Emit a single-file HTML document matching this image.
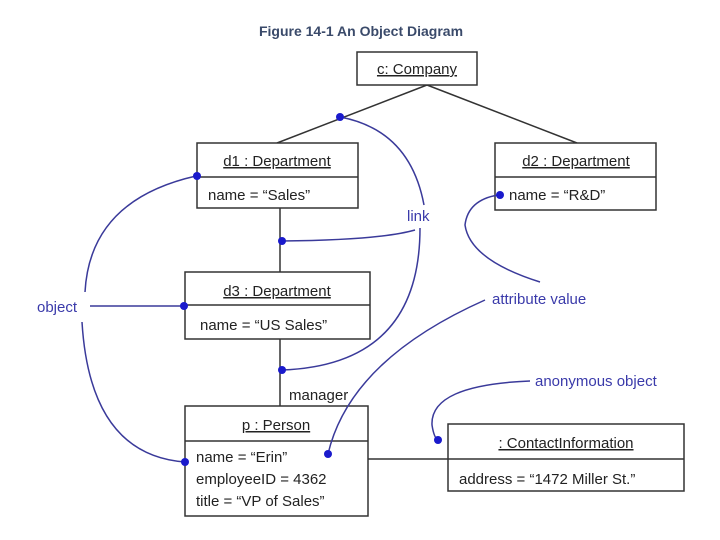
<!DOCTYPE html>
<html><head><meta charset="utf-8"><style>
body{margin:0;background:#fff;width:720px;height:540px;overflow:hidden}
svg{display:block}
text{font-family:"Liberation Sans",sans-serif}
</style></head><body>
<svg width="720" height="540" viewBox="0 0 720 540">
<text x="361" y="36" text-anchor="middle" font-size="14" font-weight="bold" fill="#3a4a6a">Figure 14-1 An Object Diagram</text>
<g stroke="#333" stroke-width="1.5" fill="none">
<line x1="427" y1="85" x2="277" y2="143"/>
<line x1="427" y1="85" x2="577" y2="143"/>
<line x1="280" y1="208" x2="280" y2="272"/>
<line x1="280" y1="339" x2="280" y2="406"/>
<line x1="368" y1="459" x2="448" y2="459"/>
<rect x="357" y="52" width="120" height="33" fill="#fff"/>
<rect x="197" y="143" width="161" height="65" fill="#fff"/><line x1="197" y1="177" x2="358" y2="177"/>
<rect x="495" y="143" width="161" height="67" fill="#fff"/><line x1="495" y1="177" x2="656" y2="177"/>
<rect x="185" y="272" width="185" height="67" fill="#fff"/><line x1="185" y1="305" x2="370" y2="305"/>
<rect x="185" y="406" width="183" height="110" fill="#fff"/><line x1="185" y1="441" x2="368" y2="441"/>
<rect x="448" y="424" width="236" height="67" fill="#fff"/><line x1="448" y1="459" x2="684" y2="459"/>
</g>
<g font-size="15" fill="#222">
<text x="417" y="74" text-anchor="middle" text-decoration="underline">c: Company</text>
<text x="277" y="166" text-anchor="middle" text-decoration="underline">d1 : Department</text>
<text x="208" y="200">name = “Sales”</text>
<text x="576" y="166" text-anchor="middle" text-decoration="underline">d2 : Department</text>
<text x="509" y="200">name = “R&amp;D”</text>
<text x="277" y="296" text-anchor="middle" text-decoration="underline">d3 : Department</text>
<text x="200" y="330">name = “US Sales”</text>
<text x="289" y="400">manager</text>
<text x="276" y="430" text-anchor="middle" text-decoration="underline">p : Person</text>
<text x="196" y="462">name = “Erin”</text>
<text x="196" y="484">employeeID = 4362</text>
<text x="196" y="506">title = “VP of Sales”</text>
<text x="566" y="448" text-anchor="middle" text-decoration="underline">: ContactInformation</text>
<text x="459" y="484">address = “1472 Miller St.”</text>
</g>
<g stroke="#3a3a9a" stroke-width="1.5" fill="none">
<path d="M340 117 Q410 130 424 205"/>
<path d="M282 241 Q380 240 415 230"/>
<path d="M420 228 Q420 365 282 370"/>
<path d="M90 306 L184 306"/>
<path d="M196 176 Q90 200 85 292"/>
<path d="M82 322 Q90 455 185 462"/>
<path d="M540 282 Q470 260 465 225 Q468 200 498 195"/>
<path d="M485 300 Q350 360 328 454"/>
<path d="M530 381 Q430 385 432 425 Q434 438 438 440"/>
</g>
<g fill="#1a1acc">
<circle cx="340" cy="117" r="4"/><circle cx="197" cy="176" r="4"/><circle cx="500" cy="195" r="4"/>
<circle cx="282" cy="241" r="4"/><circle cx="184" cy="306" r="4"/><circle cx="282" cy="370" r="4"/>
<circle cx="185" cy="462" r="4"/><circle cx="328" cy="454" r="4"/><circle cx="438" cy="440" r="4"/>
</g>
<g font-size="15" fill="#3a3aaa">
<text x="407" y="221">link</text>
<text x="37" y="312">object</text>
<text x="492" y="304">attribute value</text>
<text x="535" y="386">anonymous object</text>
</g>
</svg>
</body></html>
